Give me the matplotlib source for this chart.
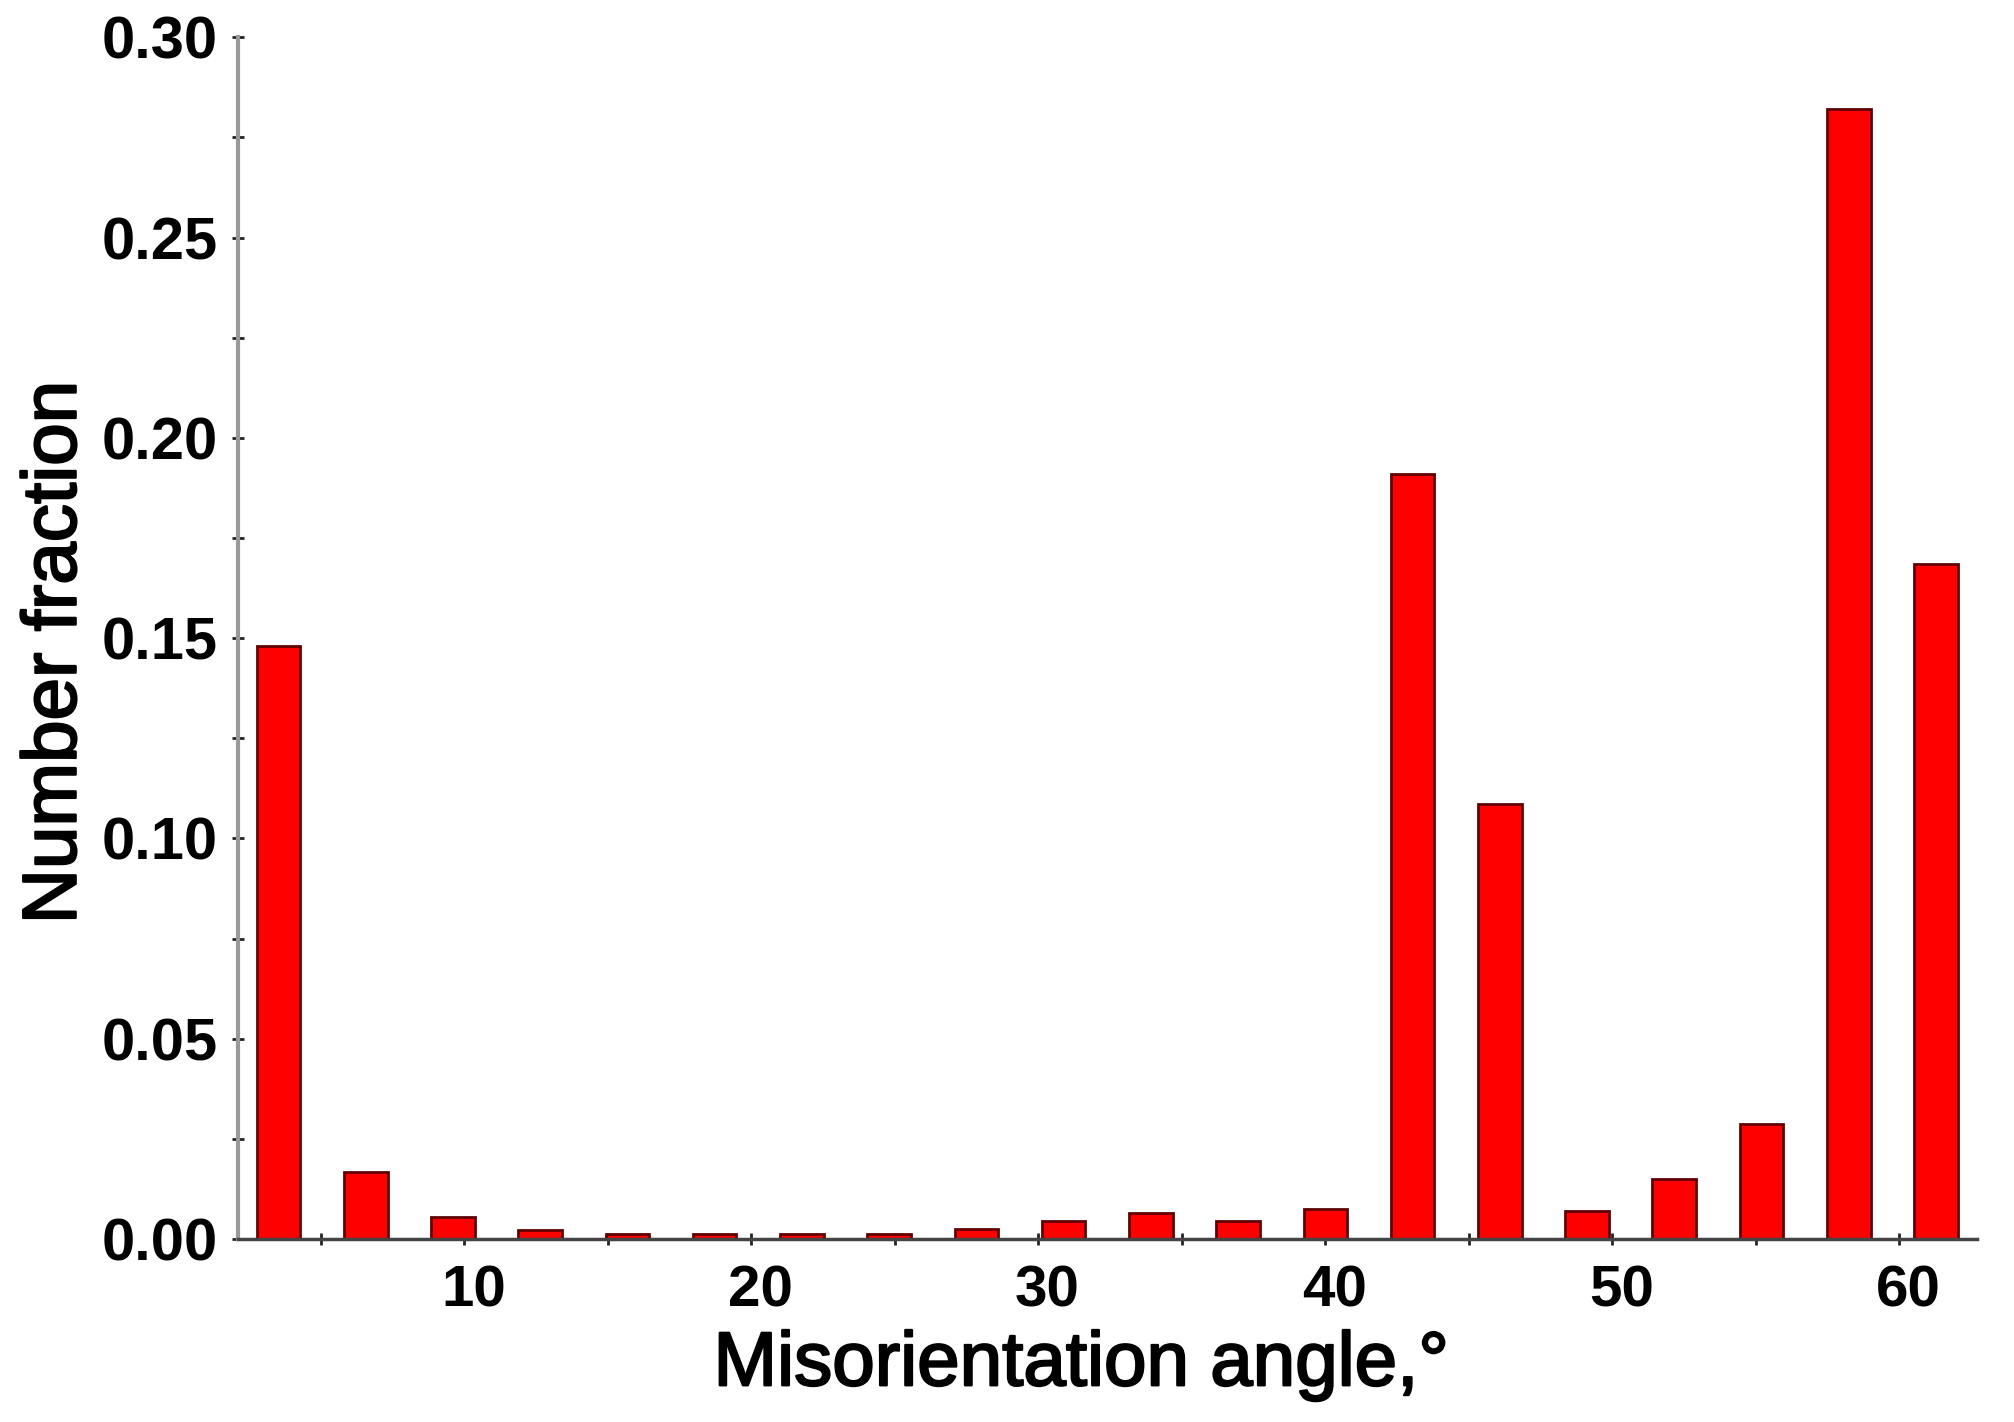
import matplotlib
matplotlib.use("Agg")
import matplotlib.pyplot as plt
import matplotlib.patheffects as pe
import matplotlib.transforms as mtrans
from matplotlib.ticker import MultipleLocator, FormatStrFormatter

# Bin centres of the misorientation-angle histogram (degrees)
angles = [3.52, 6.56, 9.60, 12.64, 15.68, 18.72, 21.76, 24.80, 27.84, 30.88,
          33.92, 36.96, 40.00, 43.04, 46.08, 49.12, 52.16, 55.20, 58.24, 61.28]
# Number fraction per bin
fractions = [0.148, 0.0168, 0.0055, 0.0023, 0.0012, 0.0012, 0.0012, 0.0012, 0.0026, 0.0044,
             0.0065, 0.0044, 0.0076, 0.191, 0.1085, 0.0071, 0.015, 0.0287, 0.282, 0.1684]
x_major_ticks = [10, 20, 30, 40, 50, 60]
y_major_ticks = [0.00, 0.05, 0.10, 0.15, 0.20, 0.25, 0.30]

plt.rcParams['font.family'] = ['Liberation Sans', 'DejaVu Sans']

fig = plt.figure(figsize=(20.15, 14.22), dpi=100)
ax = fig.add_axes([0.118, 0.1287, 0.863, 0.8451])

ax.bar(angles, fractions, width=1.52, color='#ff0000', edgecolor='#600000',
       linewidth=2.0, zorder=2)

ax.set_xlim(2.1, 62.7)
ax.set_ylim(0, 0.30)

ax.set_xticks(x_major_ticks)
ax.xaxis.set_minor_locator(MultipleLocator(5))
ax.set_yticks(y_major_ticks)
ax.yaxis.set_minor_locator(MultipleLocator(0.025))
ax.yaxis.set_major_formatter(FormatStrFormatter('%.2f'))

for s in ['top', 'right']:
    ax.spines[s].set_visible(False)
ax.spines['left'].set_color('#999999')
ax.spines['left'].set_linewidth(3)
ax.spines['bottom'].set_color('#444444')
ax.spines['bottom'].set_linewidth(2.5)

ax.tick_params(axis='y', which='both', direction='inout', length=9, width=2,
               color='#222222', pad=10)
ax.tick_params(axis='x', which='both', direction='inout', length=9, width=2,
               color='#222222', pad=14)
for lab in ax.get_yticklabels():
    lab.set_fontsize(43)
    lab.set_fontweight('bold')
shift = mtrans.ScaledTranslation(9 / 100, 0, fig.dpi_scale_trans)
for lab in ax.get_xticklabels():
    lab.set_fontsize(42)
    lab.set_fontweight('bold')
    lab.set_transform(lab.get_transform() + shift)

thick = [pe.withStroke(linewidth=1.6, foreground='black')]
xl = ax.set_xlabel('Misorientation angle,°', fontsize=55)
yl = ax.set_ylabel('Number fraction', fontsize=55)
xl.set_path_effects(thick)
yl.set_path_effects(thick)
ax.xaxis.set_label_coords(0.485, -0.076)
ax.yaxis.set_label_coords(-0.084, 0.488)

fig.savefig('out.png', dpi=100)
